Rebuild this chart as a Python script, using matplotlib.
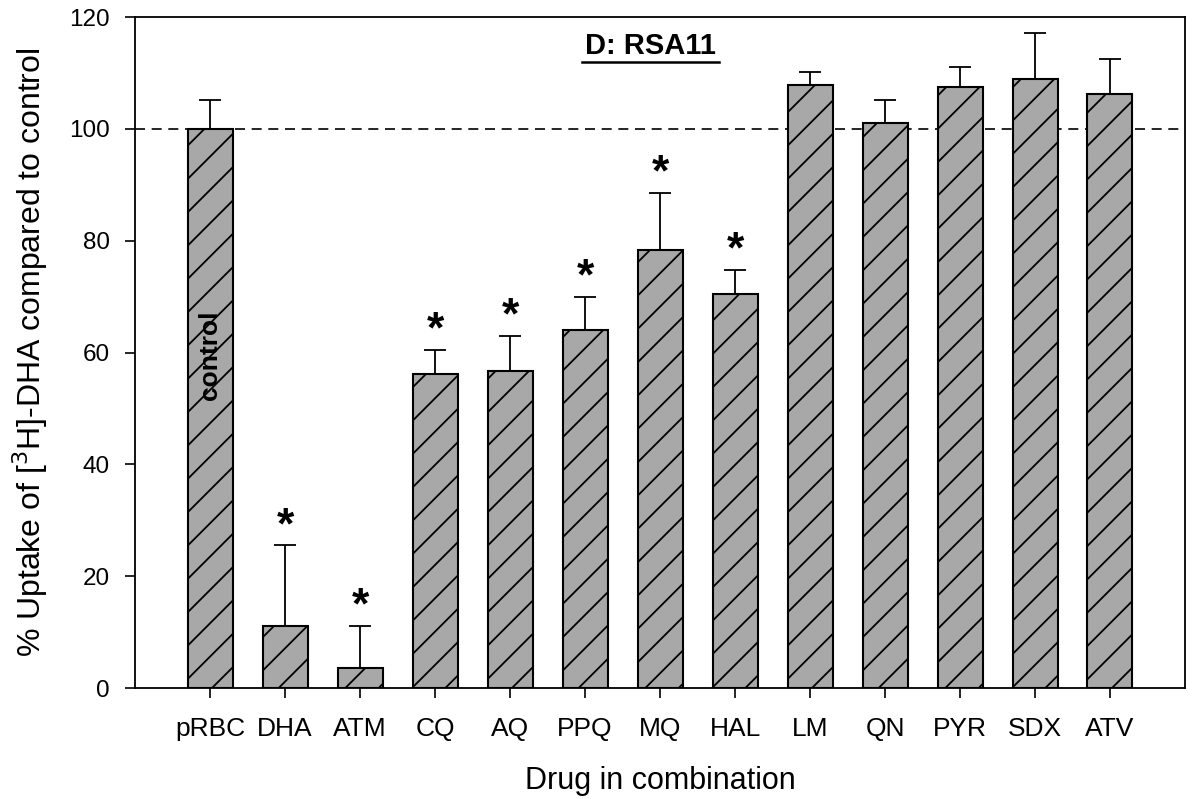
import matplotlib
matplotlib.use("Agg")
import matplotlib.pyplot as plt
import numpy as np

plt.rcParams['font.family'] = ['Liberation Sans', 'DejaVu Sans']
plt.rcParams['hatch.linewidth'] = 1.3

drugs = ['pRBC', 'DHA', 'ATM', 'CQ', 'AQ', 'PPQ', 'MQ', 'HAL', 'LM', 'QN', 'PYR', 'SDX', 'ATV']
uptake = [100, 11.1, 3.6, 56.2, 56.7, 64.0, 78.4, 70.5, 107.9, 101.0, 107.4, 109.0, 106.3]
err_up = [5.2, 14.4, 7.5, 4.3, 6.3, 6.0, 10.2, 4.3, 2.2, 4.2, 3.7, 8.1, 6.2]
significant = [False, True, True, True, True, True, True, True, False, False, False, False, False]

x = np.arange(len(drugs))

fig = plt.figure(figsize=(11.96, 7.99), dpi=100)
ax = fig.add_axes([0.1129, 0.1389, 0.8779, 0.8398])

ax.bar(x, uptake, width=0.6, color='#a8a8a8', edgecolor='black',
       linewidth=1.5, hatch='/', zorder=2)
ax.errorbar(x, uptake, yerr=[np.zeros(len(x)), err_up], fmt='none',
            ecolor='black', elinewidth=1.3, capsize=8, capthick=1.3, zorder=1)

# significance stars
for xi, v, e, s in zip(x, uptake, err_up, significant):
    if s:
        ax.text(xi, v + e + 3.4, '*', ha='center', va='center',
                fontsize=32, fontweight='bold')

ax.axhline(100, color='black', linestyle=(0, (6, 4)), linewidth=1.2, zorder=0)

ax.text(0, 59.5, 'control', rotation=90, ha='center', va='center',
        fontsize=19, fontweight='bold')
ax.text(5.87, 114.9, 'D: RSA11', ha='center', va='center',
        fontsize=21, fontweight='bold')
ax.plot([4.96, 6.79], [111.9, 111.9], color='black', linewidth=1.8)

ax.set_xlim(-1, 13)
ax.set_ylim(0, 120)
ax.set_xticks(x)
ax.set_xticklabels(drugs, fontsize=19)
ax.set_yticks(np.arange(0, 121, 20))
ax.tick_params(axis='y', labelsize=17.5, direction='out', length=7, width=1.2, pad=11)
ax.tick_params(axis='x', direction='out', length=7, width=1.2, pad=14)
for sp in ax.spines.values():
    sp.set_linewidth(1.3)

ax.set_xlabel('Drug in combination', fontsize=22, labelpad=18)
ax.set_ylabel('% Uptake of [$^3$H]-DHA compared to control', fontsize=23, labelpad=14)

fig.savefig('out.png', dpi=100)
